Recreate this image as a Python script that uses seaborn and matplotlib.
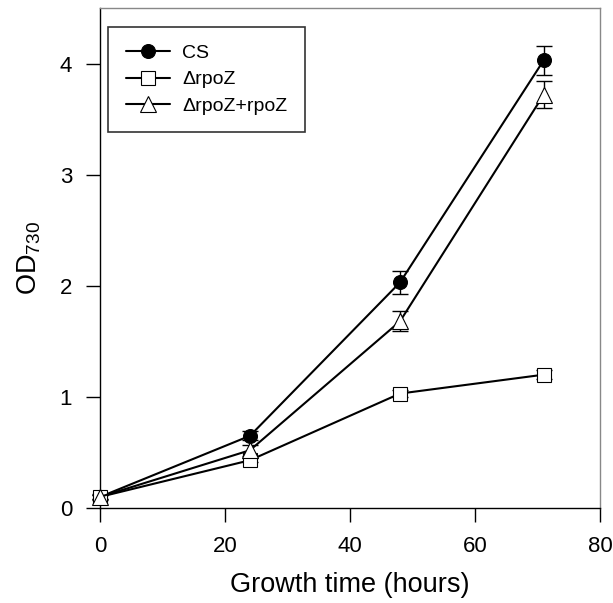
import matplotlib
matplotlib.use("Agg")
import matplotlib.pyplot as plt
import seaborn as sns
import pandas as pd

# growth data
hours = [0, 24, 48, 71]
cs = [0.10, 0.65, 2.03, 4.03]
cs_err = [0.03, 0.04, 0.10, 0.13]
rpoz = [0.10, 0.43, 1.03, 1.20]
rpoz_err = [0.02, 0.02, 0.03, 0.04]
comp = [0.10, 0.52, 1.68, 3.72]
comp_err = [0.02, 0.05, 0.09, 0.12]
labels = ["CS", "\u0394rpoZ", "\u0394rpoZ+rpoZ"]

sns.set_style("ticks")
plt.rcParams['font.family'] = ['Liberation Sans', 'DejaVu Sans']
plt.rcParams['mathtext.fontset'] = 'custom'
plt.rcParams['mathtext.rm'] = 'Liberation Sans'
plt.rcParams['text.color'] = 'black'
plt.rcParams['axes.labelcolor'] = 'black'
plt.rcParams['xtick.color'] = 'black'
plt.rcParams['ytick.color'] = 'black'

fig = plt.figure(figsize=(6.13, 6.03), dpi=100)
ax = fig.add_axes([100 / 613, 95 / 603, 500 / 613, 500 / 603])

series = [
    (cs, cs_err, labels[0], "o", "black", 10),
    (rpoz, rpoz_err, labels[1], "s", "white", 9.5),
    (comp, comp_err, labels[2], "^", "white", 11),
]
for vals, errs, name, mk, fc, ms in series:
    df = pd.DataFrame({"hours": hours, "od": vals})
    ax.errorbar(hours, vals, yerr=errs, fmt="none", ecolor="black",
                elinewidth=1, capsize=6, capthick=1, zorder=2)
    sns.lineplot(data=df, x="hours", y="od", ax=ax, color="black",
                 linewidth=1.5, marker=mk, markersize=ms,
                 markerfacecolor=fc, markeredgecolor="black",
                 markeredgewidth=0.8, label=name, zorder=3)

# points at hour 0 sit on the left axis
for ln in ax.lines:
    ln.set_clip_on(False)

ax.set_xlim(0, 80)
ax.set_ylim(0, 4.5)
ax.set_xticks([0, 20, 40, 60, 80])
ax.set_yticks([0, 1, 2, 3, 4])
ax.tick_params(direction="out", length=10, width=1, labelsize=16, pad=10)
ax.set_xlabel("Growth time (hours)", fontsize=19.5, labelpad=11)
ax.set_ylabel(r"OD$_{730}$", fontsize=19.5, labelpad=12)

for s in ["left", "bottom"]:
    ax.spines[s].set_color("black")
    ax.spines[s].set_linewidth(1)
for s in ["top", "right"]:
    ax.spines[s].set_color("#888888")
    ax.spines[s].set_linewidth(1)

leg = ax.legend(loc="upper left", bbox_to_anchor=(0.016, 0.962), borderaxespad=0,
                fontsize=14, frameon=True, fancybox=False, edgecolor="black",
                handlelength=2.3, handletextpad=0.6, borderpad=0.9,
                labelspacing=0.45)
leg.get_frame().set_linewidth(1.2)

fig.savefig("out.png", dpi=100)
